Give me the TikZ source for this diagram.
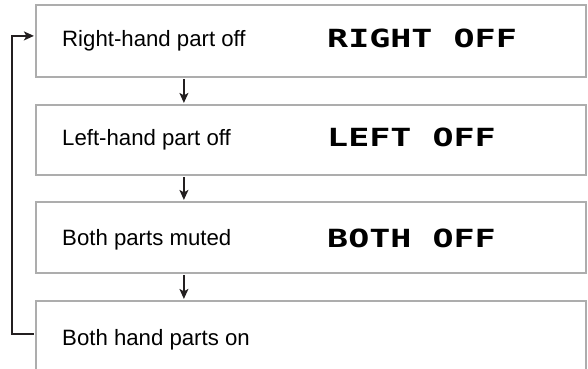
\documentclass[tikz,border=0pt]{standalone}
\usepackage{fontspec}
\setmainfont{Liberation Sans}
\newfontfamily\lcdfont{DejaVu Sans Mono}[FakeStretch=1.4]
\usetikzlibrary{arrows.meta,calc}
\definecolor{boxgray}{HTML}{ADADAD}
\definecolor{linedark}{HTML}{231F20}
\tikzset{
  box/.style={draw=boxgray, line width=2.2pt, fill=white, minimum width=550pt, inner sep=0pt},
  label/.style={anchor=base west, inner sep=0pt, font=\fontsize{22.2}{26}\selectfont, text=black},
  lcd/.style={anchor=base west, inner sep=0pt, font=\lcdfont\bfseries\fontsize{25}{29}\selectfont, text=black},
  arr/.style={draw=linedark, line width=1.5pt, -{Stealth[length=10pt,width=9pt,inset=2.5pt]}},
  loopline/.style={draw=linedark, line width=1.7pt, -{Stealth[length=10pt,width=9pt,inset=2.5pt]}}
}
\begin{document}
\begin{tikzpicture}[x=1pt,y=-1pt]
\useasboundingbox (0,0) rectangle (588,368);
\node[box, minimum height=72pt] (b1) at (311,41) {};
\node[box, minimum height=70pt] (b2) at (311,140) {};
\node[box, minimum height=71pt] (b3) at (311,237.5) {};
\node[box, minimum height=80pt] (b4) at (311,341) {};
\node[label] (t1) at (62,46.5) {Right-hand part off};
\node[label] (t2) at (62,145.5) {Left-hand part off};
\node[label] (t3) at (62,245.5) {Both parts muted};
\node[label] (t4) at (62,345) {Both hand parts on};
\node[lcd] (l1) at (327,47) {RIGHT OFF};
\node[lcd] (l2) at (327,146.5) {LEFT OFF};
\node[lcd] (l3) at (327,247) {BOTH OFF};
\draw[arr] ($(b1.south west)+(149,1)$) -- ($(b2.north west)+(149,-1)$);
\draw[arr] ($(b2.south west)+(149,1)$) -- ($(b3.north west)+(149,-1)$);
\draw[arr] ($(b3.south west)+(149,1)$) -- ($(b4.north west)+(149,-1)$);
\coordinate (loopstart) at ($(b4.north west)+(-1,34)$);
\coordinate (loopend) at ($(b1.north west)+(-1,32)$);
\draw[loopline] (loopstart) -- ++(-22,0) |- (loopend);
\end{tikzpicture}
\end{document}
